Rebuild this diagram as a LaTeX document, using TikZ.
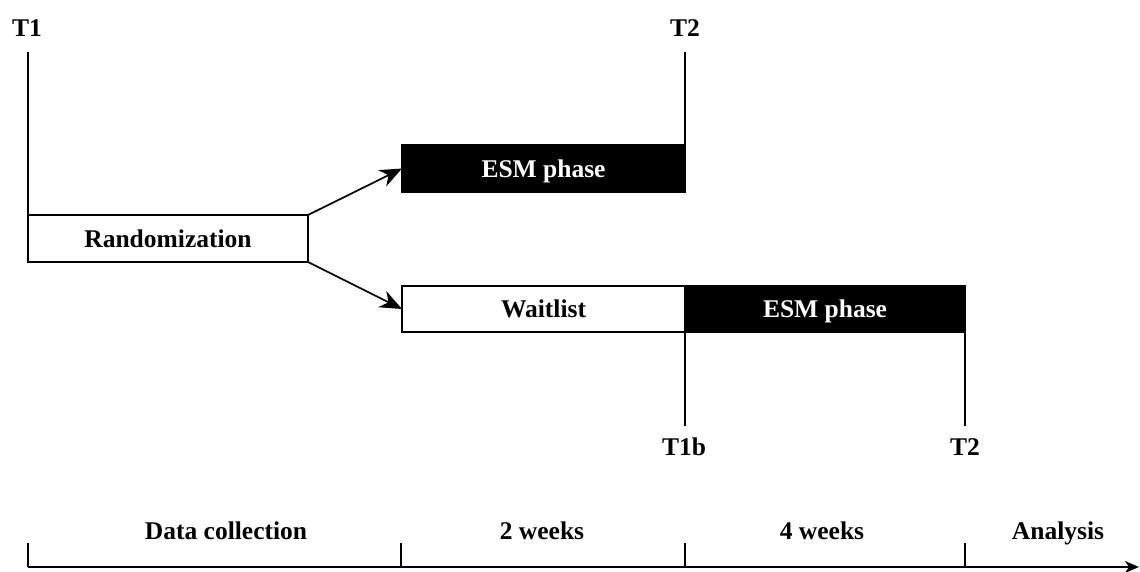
\documentclass[tikz,border=0pt]{standalone}
\usepackage{fontspec}
\setmainfont{Liberation Serif}
\usetikzlibrary{arrows.meta}
\begin{document}
\begin{tikzpicture}[x=1pt,y=-1pt,
  every node/.style={font=\fontsize{25.5}{30}\selectfont\bfseries,outer sep=0pt},
  phase/.style={draw=black,line width=1.7pt,inner sep=0pt,anchor=north west,text height=20pt,text depth=3pt},
  esmbox/.style={phase,fill=black,text=white},
  lbl/.style={inner sep=0pt,text height=20pt,text depth=3pt},
  conn/.style={line width=1.7pt},
  arr/.style={line width=1.7pt,-{Stealth[length=22pt,width=18pt,inset=7pt]}},
  axisline/.style={line width=1.7pt,-{Stealth[length=14pt,width=12pt,inset=4pt]}}]
\useasboundingbox (0,0) rectangle (1140,571);

% boxes
\node[phase,minimum width=280pt,minimum height=47pt] (rand) at (28,215) {Randomization};
\node[esmbox,minimum width=283pt,minimum height=47pt] (esm1) at (402,145) {ESM phase};
\node[phase,minimum width=283pt,minimum height=46pt] (wait) at (402,286) {Waitlist};
\node[esmbox,minimum width=280pt,minimum height=46pt] (esm2) at (685,286) {ESM phase};

% time point labels
\node[lbl] (t1) at (27,28) {T1};
\node[lbl] (t2a) at (685,28) {T2};
\node[lbl] (t1b) at (684,447) {T1b};
\node[lbl] (t2b) at (965,447) {T2};

\coordinate (t1end) at (28,52);
\coordinate (t2aend) at (685,52);
\coordinate (t1bend) at (685,426);
\coordinate (t2bend) at (965,426);

\draw[conn] (t1end) -- (rand.north west);
\draw[conn] (t2aend) -- (esm1.north east);
\draw[conn] (wait.south east) -- (t1bend);
\draw[conn] (esm2.south east) -- (t2bend);

% randomization arrows
\draw[arr] (rand.north east) -- (esm1.west);
\draw[arr] (rand.south east) -- (wait.west);

% time axis
\coordinate (ax0) at (28,567);
\coordinate (ax1) at (401,567);
\coordinate (ax2) at (685,567);
\coordinate (ax3) at (965,567);
\coordinate (axend) at (1139,567);
\coordinate (tk0) at (28,543);
\coordinate (tk1) at (401,543);
\coordinate (tk2) at (685,543);
\coordinate (tk3) at (965,543);
\draw[axisline] (ax0) -- (axend);
\draw[conn] (tk0) -- (ax0);
\draw[conn] (tk1) -- (ax1);
\draw[conn] (tk2) -- (ax2);
\draw[conn] (tk3) -- (ax3);

\node[lbl] (dc) at (226,531) {Data collection};
\node[lbl] (w2) at (542,531) {2 weeks};
\node[lbl] (w4) at (822,531) {4 weeks};
\node[lbl] (an) at (1058,531) {Analysis};
\end{tikzpicture}
\end{document}
